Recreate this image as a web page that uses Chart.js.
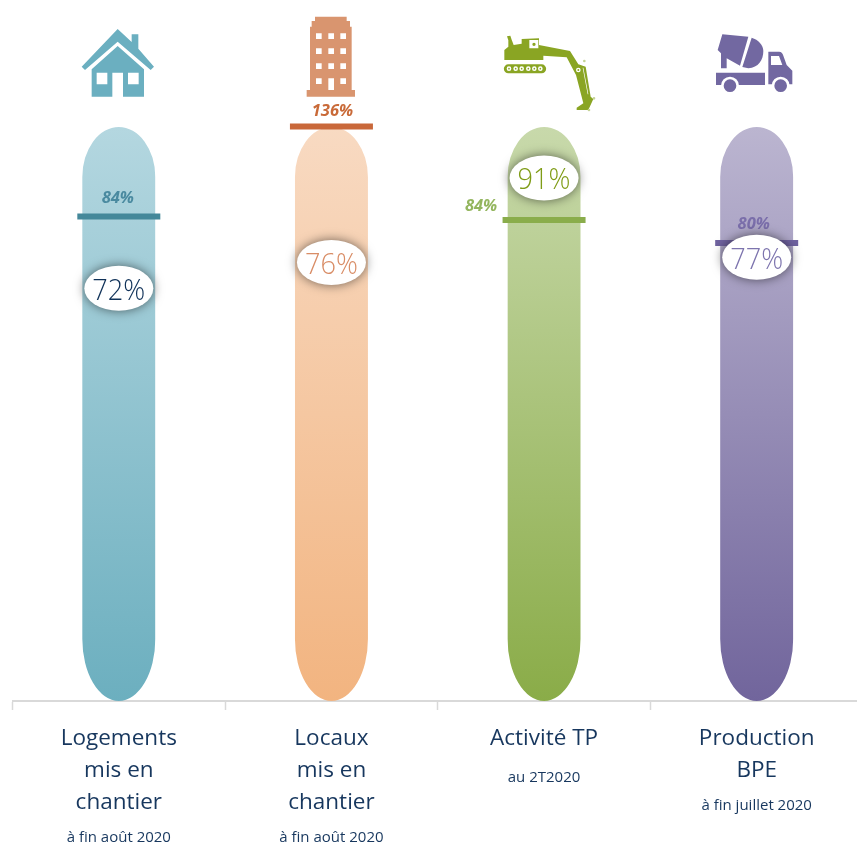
<!DOCTYPE html>
<html>
<head>
<meta charset="utf-8">
<script src="https://cdn.jsdelivr.net/npm/chart.js@4/dist/chart.umd.min.js"></script>
<style>
  html, body { margin:0; padding:0; background:#fff; width:857px; height:843px; overflow:hidden }
  #wrap { width:857px; height:843px; overflow:hidden }
  canvas { display:block }
</style>
</head>
<body>
<div id="wrap"><canvas id="chart" width="870" height="843"></canvas></div>
<script>
// Values
const categories = [['Logements','mis en','chantier'], ['Locaux','mis en','chantier'], ['Activité TP'], ['Production','BPE']]
const subLabels = ['à fin août 2020', 'à fin août 2020', 'au 2T2020', 'à fin juillet 2020']
const tubeValues = [100, 100, 100, 100]
const actualValues = [71.9, 76.4, 91.1, 77.3]
const targetLabels = [84, 136, 84, 80]
// the 136 marker sits on top of the tube, the axis stops at 100
const targetMarks = [84.4, 100.1, 83.8, 79.8]

const tubeTop = ['#b4d7e0', '#f8dac2', '#c8d9ab', '#bbb5d0']
const tubeBottom = ['#6cafbf', '#f2b480', '#8aac48', '#71659c']
const markColors = ['#44889a', '#c9683a', '#8aad4b', '#6f629f']
const targetTextColors = ['#4a8aa0', '#c96a38', '#94b65f', '#7a6eaa']
const actualTextColors = ['#0f3158', '#d98d66', '#7f9c16', '#7d74ae']
const targetLabelOffsets = [[-1,-18], [1,-15], [-63,-14], [-3,-19]]

const FONT = '"Open Sans", "Noto Sans", sans-serif'
const CAP_TOP = 50
const CAP_BOTTOM = 62

function tubeGradient(c){
  const area = c.chart.chartArea
  if (!area) return tubeBottom[c.dataIndex]
  const g = c.chart.ctx.createLinearGradient(0, area.top, 0, area.bottom)
  g.addColorStop(0, tubeTop[c.dataIndex])
  g.addColorStop(1, tubeBottom[c.dataIndex])
  return g
}

// Bars get elliptical ends, which borderRadius can't do
const tubeClip = {
  id:'tubeClip',
  beforeDatasetDraw(chart, args){
    if (args.index !== 0) return
    const ctx = chart.ctx
    ctx.save()
    ctx.beginPath()
    args.meta.data.forEach(b => {
      const r = b.width / 2
      ctx.moveTo(b.x - r, b.y + CAP_TOP)
      ctx.ellipse(b.x, b.y + CAP_TOP, r, CAP_TOP, 0, Math.PI, 0)
      ctx.ellipse(b.x, b.base - CAP_BOTTOM, r, CAP_BOTTOM, 0, 0, Math.PI)
      ctx.closePath()
    })
    ctx.clip()
  },
  afterDatasetDraw(chart, args){
    if (args.index === 0) chart.ctx.restore()
  }
}

const badges = {
  id:'badges',
  afterDatasetsDraw(chart){
    const ctx = chart.ctx
    ctx.textAlign = 'center'
    ctx.textBaseline = 'middle'
    chart.getDatasetMeta(2).data.forEach((p, i) => {
      ctx.font = 'italic bold 16.5px ' + FONT
      ctx.fillStyle = targetTextColors[i]
      ctx.fillText(targetLabels[i] + '%', p.x + targetLabelOffsets[i][0], p.y + targetLabelOffsets[i][1])
    })
    chart.getDatasetMeta(1).data.forEach((p, i) => {
      ctx.save()
      ctx.shadowColor = 'rgba(0,0,0,0.55)'
      ctx.shadowBlur = 11
      ctx.fillStyle = '#fff'
      ctx.beginPath()
      ctx.ellipse(p.x, p.y, 34.5, 22.5, 0, 0, Math.PI * 2)
      ctx.fill()
      ctx.restore()
      // the reference lettering is a little narrower than Open Sans
      ctx.save()
      ctx.translate(p.x, p.y + 3)
      ctx.scale(0.92, 1)
      ctx.font = '300 29.5px ' + FONT
      ctx.fillStyle = actualTextColors[i]
      ctx.fillText(Math.round(actualValues[i]) + '%', 0, 0)
      ctx.restore()
    })
  }
}

const subTitles = {
  id:'subTitles',
  afterDraw(chart){
    const ctx = chart.ctx, x = chart.scales.x
    ctx.save()
    ctx.font = '15px ' + FONT
    ctx.fillStyle = '#17375e'
    ctx.textAlign = 'center'
    ctx.textBaseline = 'middle'
    subLabels.forEach((t, i) => {
      ctx.fillText(t, x.getPixelForTick(i), 738.5 + (categories[i].length - 1) * 32 + (categories[i].length === 1 ? 39 : 35))
    })
    ctx.restore()
  }
}

// Pictograms, traced in the 3x zoom space of the picture
function paint(ctx, ox, oy, color, path, holes){
  ctx.save()
  ctx.translate(ox, oy)
  ctx.scale(1/3, 1/3)
  ctx.fillStyle = color
  ctx.fill(new Path2D(path))
  if (holes) { ctx.fillStyle = '#fff'; ctx.fill(new Path2D(holes)) }
  ctx.restore()
}
const rect = (x, y, w, h) => `M${x} ${y}h${w}v${h}h${-w}z`
const dot = (x, y, r) => `M${x+r} ${y}a${r} ${r} 0 1 0 ${-2*r} 0a${r} ${r} 0 1 0 ${2*r} 0z`

const icons = {
  id:'icons',
  afterDraw(chart){
    const ctx = chart.ctx
    // house
    paint(ctx, 60, 10, '#6bafc0',
      'M173 57L215 96V73H235V116L282 170L272 180L173 95L75 180L65 170Z' +
      'M173 108L252 178V260H189V188H157V260H95V178Z',
      rect(110,188,32,35) + rect(204,188,32,35))
    // building
    let windows = ''
    ;[70,115,160,205].forEach(y => [768,805,841].forEach(x => { windows += rect(x, y, 17, x === 805 && y === 205 ? 35 : 17) }))
    paint(ctx, 60, 10, '#d9956f',
      'M765 20H860V33H870V50H875V240H885V260H740V240H750V50H755V33H765Z', windows)
    // excavator
    let rollers = ''
    ;[42,62,80,100,118,136].forEach(x => { rollers += dot(x,131,7) })
    paint(ctx, 495, 25, '#8aa523',
      'M28 105V75L40 65V46L36 34L46 32L50 44L56 60L80 56V42L132 40V60L225 78L250 118L272 125L287 215L295 222L280 255H245V248L265 235L260 215L243 150L215 97L145 92V105Z' +
      'M40 118H140A13 13 0 0 1 140 145H40A13 13 0 0 1 40 118Z',
      rect(103,45,27,25) + rollers + dot(250,135,7) + 'M263 128L265 128L280 208L278 208Z')
    let hubs = dot(117,58,5) + dot(250,135,3)
    ;[42,62,80,100,118,136].forEach(x => { hubs += dot(x,131,2.5) })
    paint(ctx, 495, 25, '#8aa523', hubs)
    paint(ctx, 495, 25, '#c5d396', dot(268,108,4) + dot(297,220,4) + dot(282,255,4))
    // mixer truck
    paint(ctx, 705, 25, '#7268a1',
      'M52 28L130 35L105 122L65 100V130H48V85L38 75Z' +
      'M140 38C160 44 175 60 175 78C175 105 160 128 130 130L112 126Z' +
      'M33 143H180V180H33Z' +
      'M190 80H222C230 80 233 86 235 92L245 120L262 137V178H190Z',
      'M198 93H222L232 120H198Z' + dot(75,182,27) + dot(227,182,27))
    paint(ctx, 705, 25, '#7268a1', dot(75,182,19) + dot(227,182,19))
  }
}

new Chart(document.getElementById('chart'), {
  data: {
    labels: categories,
    datasets: [
      { type:'bar', data:tubeValues, backgroundColor:tubeGradient, barThickness:73, order:3, borderWidth:0 },
      { type:'line', data:actualValues, showLine:false, pointRadius:0, order:2, clip:false },
      { type:'line', data:targetMarks, showLine:false, pointStyle:'line', pointRadius:41.5, pointBorderWidth:6,
        pointBorderColor:markColors, pointBackgroundColor:markColors, order:1, clip:false }
    ]
  },
  options: {
    responsive:false,
    animation:false,
    events:[],
    layout:{ autoPadding:false, padding:{ top:127, left:12.5, right:7, bottom:0 } },
    plugins:{ legend:{ display:false }, tooltip:{ enabled:false } },
    scales:{
      y:{ display:false, min:0, max:100 },
      x:{
        afterFit(s){ s.height = 142; s.paddingLeft = 0; s.paddingRight = 0 },
        border:{ color:'#d9d9d9', width:2 },
        grid:{ drawOnChartArea:false, drawTicks:true, tickLength:9, tickWidth:1.5, tickColor:'#d9d9d9', offset:true },
        ticks:{ autoSkip:false, maxRotation:0, padding:13, color:'#17375e', font:{ family:FONT, size:22.5, lineHeight:32/22.5 } }
      }
    }
  },
  plugins:[tubeClip, badges, subTitles, icons]
})
</script>
</body>
</html>
